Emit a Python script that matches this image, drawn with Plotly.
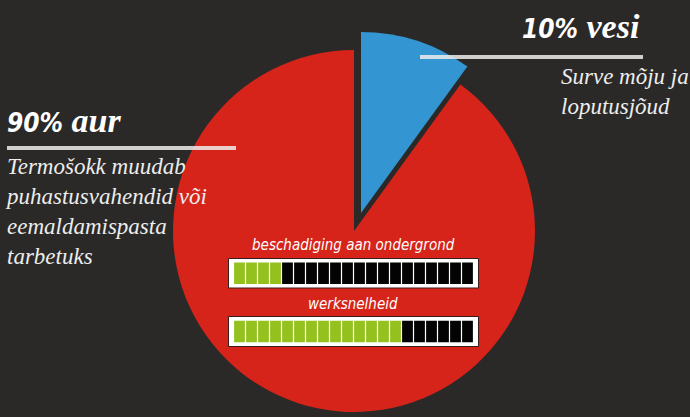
import plotly.graph_objects as go

# --- data -------------------------------------------------------------
labels = ["vesi", "aur"]
shares = [10, 90]
title_pct = ["10%", "90%"]
title_word = ["vesi", "aur"]
notes = ["Surve mõju ja<br>loputusjõud",
         "Termošokk muudab<br>puhastusvahendid või<br>eemaldamispasta<br>tarbetuks"]

meter_labels = ["beschadiging aan ondergrond", "werksnelheid"]
meter_values = [4, 14]
meter_cells = 20

# --- style ------------------------------------------------------------
W, H = 690, 417
BG = "#2a2928"
RED = "#d6241a"
BLUE = "#3395d2"
GREEN = "#95c11f"
CLEAR = "rgba(0,0,0,0)"
RULE = "rgba(236,236,236,0.85)"
SERIF = "Liberation Serif"
NARROW = "Liberation Sans Narrow, DejaVu Sans Condensed, Roboto, sans-serif"


def px(x):
    return x / W


def py(y):
    return 1 - y / H


fig = go.Figure()

# red pie (90%) and the pulled-out blue wedge (10%) as two pies of equal size
fig.add_trace(go.Pie(
    labels=labels, values=shares, sort=False, direction="clockwise", rotation=0,
    marker=dict(colors=[CLEAR, RED]), textinfo="none", showlegend=False,
    domain=dict(x=[px(354 - 181), px(354 + 181)], y=[py(412), py(50)]),
    hovertemplate="%{label}: %{percent}<extra></extra>",
))
fig.add_trace(go.Pie(
    labels=labels, values=shares, sort=False, direction="clockwise", rotation=0,
    marker=dict(colors=[BLUE, CLEAR]), textinfo="none", showlegend=False,
    domain=dict(x=[px(361 - 181), px(361 + 181)], y=[py(394), py(32)]),
    hovertemplate="%{label}: %{percent}<extra></extra>",
))

# meters: one small cartesian subplot per meter; the pie layer sits above
# cartesian traces, so the cells are drawn as axis-referenced shapes on top
boxes = [(258.5, 288), (316.5, 346.5)]
axis_style = dict(showgrid=False, zeroline=False, showticklabels=False,
                  showline=False, fixedrange=True, ticks="")
for i, (label, val) in enumerate(zip(meter_labels, meter_values)):
    ax = "" if i == 0 else str(i + 1)
    xr, yr = "x" + ax, "y" + ax
    cells = list(range(1, meter_cells + 1))
    fig.add_trace(go.Bar(
        x=cells, y=[1] * meter_cells, base=0, width=0.9, opacity=0,
        xaxis=xr, yaxis=yr, showlegend=False, hoverinfo="skip",
    ))
    top, bottom = boxes[i]
    fig.update_layout(**{
        "xaxis" + ax: dict(domain=[px(228.5), px(478.5)],
                           range=[0.083, meter_cells + 0.917], anchor=yr, **axis_style),
        "yaxis" + ax: dict(domain=[py(bottom), py(top)], range=[-0.19, 1.19],
                           anchor=xr, **axis_style),
    })
    # white frame
    fig.add_shape(type="rect", xref=xr + " domain", yref=yr + " domain",
                  x0=0, x1=1, y0=0, y1=1, fillcolor="white",
                  line=dict(color="#3b1c1a", width=1), layer="above")
    for c in cells:
        fig.add_shape(type="rect", xref=xr, yref=yr, x0=c - 0.45, x1=c + 0.45,
                      y0=0, y1=1, fillcolor=GREEN if c <= val else "#030303",
                      line=dict(width=0), layer="above")
    fig.add_annotation(x=px(353), y=py(245 + i * 59), xref="paper", yref="paper",
                       text=f"<i>{label}</i>", showarrow=False,
                       xanchor="center", yanchor="middle",
                       font=dict(family=NARROW, size=15, color="white"))

# headline labels with rule under them
heads = [(520, 26), (5, 120)]
for (hx, hy), pct, word in zip(heads, title_pct, title_word):
    fig.add_annotation(
        x=px(hx), y=py(hy), xref="paper", yref="paper", xanchor="left", yanchor="middle",
        text=(f"<b><i><span style=\"font-family:{NARROW};font-size:26px\">{pct}</span>"
              f" {word}</i></b>"),
        showarrow=False, font=dict(family=SERIF, size=34, color="white"))

fig.add_shape(type="line", xref="paper", yref="paper", x0=px(7), x1=px(236),
              y0=py(148), y1=py(148), line=dict(color=RULE, width=4), layer="above")
fig.add_shape(type="line", xref="paper", yref="paper", x0=px(420), x1=px(643),
              y0=py(57), y1=py(57), line=dict(color=RULE, width=4), layer="above")

# descriptions
fig.add_annotation(x=px(3), y=py(152), xref="paper", yref="paper",
                   xanchor="left", yanchor="top", align="left",
                   text=f"<i>{notes[1]}</i>", showarrow=False,
                   font=dict(family=SERIF, size=23, color="#ededed"))
fig.add_annotation(x=px(559), y=py(62), xref="paper", yref="paper",
                   xanchor="left", yanchor="top", align="left",
                   text=f"<i>{notes[0]}</i>", showarrow=False,
                   font=dict(family=SERIF, size=23, color="#ededed"))

fig.update_layout(
    width=W, height=H,
    margin=dict(l=0, r=0, t=0, b=0),
    paper_bgcolor=BG,
    plot_bgcolor=CLEAR,
    showlegend=False,
)

fig.write_html("out.html", config={"displayModeBar": False},
               post_script=f"document.body.style.margin='0';"
                           f"document.body.style.background='{BG}';")
